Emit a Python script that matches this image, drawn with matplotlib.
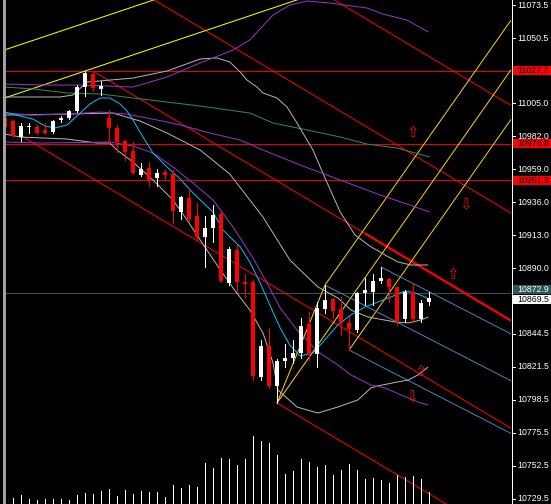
import matplotlib
matplotlib.use('Agg')
import matplotlib.pyplot as plt
from matplotlib.transforms import blended_transform_factory
from matplotlib.patches import Rectangle

# ---------------- data ----------------
opens  = [10994.7,10992.6,10981.5,10988.5,10988.5,10986.4,10985.0,10993.3,10994.7,10999.6,
          11016.3,11025.4,11015.0,10994.7,10987.8,10978.7,10971.7,10955.0,10959.9,10952.9,
          10957.1,10955.7,10929.2,10939.0,10926.4,10911.8,10918.1,10927.8,10879.7,10902.7,
          10880.4,10880.4,10814.2,10835.8,10808.0,10825.4,10827.5,10831.0,10851.2,10830.3,
          10861.6,10868.6,10861.6,10851.9,10847.0,10872.8,10873.5,10881.1,10882.5,10877.0,
          10854.7,10873.5,10854.7,10866.5]
highs  = [10996.1,10993.3,10991.3,10991.3,10989.9,10991.3,10993.3,10996.1,11000.3,11017.7,
          11027.5,11027.5,11020.5,11000.3,10989.9,10979.4,10978.0,10963.4,10964.1,10959.2,
          10958.5,10958.5,10940.4,10945.3,10935.5,10926.4,10934.1,10929.2,10904.8,10906.2,
          10886.0,10881.8,10840.0,10848.4,10826.8,10837.2,10840.0,10855.4,10859.5,10866.5,
          10878.3,10869.3,10870.0,10856.0,10873.5,10883.2,10886.0,10890.9,10883.2,10877.0,
          10874.9,10879.7,10867.9,10873.5]
lows   = [10987.8,10981.5,10978.7,10984.3,10983.6,10983.6,10984.3,10992.0,10994.0,10998.9,
          11010.1,11013.6,11010.8,10977.3,10971.0,10965.5,10955.7,10954.3,10947.4,10947.4,
          10951.5,10921.6,10924.4,10923.0,10909.7,10890.9,10908.3,10880.4,10878.3,10873.5,
          10870.0,10812.1,10812.1,10806.6,10796.1,10821.2,10824.0,10827.5,10826.1,10821.2,
          10858.8,10855.4,10843.5,10833.0,10845.6,10864.4,10864.4,10879.7,10866.5,10850.5,
          10852.6,10852.6,10852.6,10864.4]
closes = [10988.5,10982.2,10989.2,10989.2,10984.3,10984.3,10992.6,10994.7,10999.6,11016.3,
          11026.1,11015.6,11017.0,10987.8,10978.0,10971.0,10956.4,10959.2,10951.5,10956.4,
          10955.0,10929.9,10939.7,10924.4,10911.8,10918.1,10927.1,10881.1,10903.4,10880.4,
          10879.0,10814.9,10835.8,10808.0,10825.4,10827.5,10831.0,10849.8,10830.3,10862.3,
          10867.9,10860.2,10851.9,10847.7,10872.8,10874.9,10881.1,10883.2,10877.0,10852.6,
          10873.5,10854.7,10865.8,10869.5]
volumes = [6,6,9,5,4,5,5,5,4,9,11,10,13,15,8,14,10,13,12,12,7,19,16,19,17,
           41,36,46,45,39,45,68,63,61,49,30,33,45,42,37,39,29,34,40,34,25,26,24,21,29,27,28,25,12]

# indicator traces: (bar position, price)
cyan_x = [0,1.9,3.5,5,6.25,7.75,9.4,10.6,11.9,13.1,14.4,15.25,16,17.25,18.5,20.25,21.9,23.5,26,27.25,
          29.4,30.6,31.9,33.1,34.4,35.6,36.9,38.5,39.75,41.6,43.25,45,46.6,48.25,50,51.25,52.5,53.1]
cyan_y = [10998.9,10996.1,10994.0,10989.2,10987.8,10989.9,10998.2,11004.5,11008.7,11008.7,11004.5,10999.6,
          10993.3,10981.5,10970.3,10960.6,10952.2,10942.5,10929.2,10916.7,10904.8,10894.4,10879.7,10864.4,
          10848.4,10836.5,10828.9,10831.0,10838.6,10850.5,10857.5,10863.0,10866.5,10870.0,10874.2,10872.8,
          10870.0,10867.9]

pu_x = [0,5.6,10,16,20.25,24.4,28.5,30.6,33.5,35.6,37.75,40.6,45.25,47.25,50.25,52.9]
pu_y = [11018.4,11017.7,11017.7,11016.3,11023.3,11033.1,11042.1,11049.1,11066.5,11073.5,11076.3,
        11074.9,11071.4,11067.2,11063.0,11054.7]
pm_x = [0,3.5,7.75,11.9,15.25,17.75,20.25,21.9,25.6,29.4,32.25,36.9,41.9,46.9,50.6,53.1]
pm_y = [10998.2,10996.8,10997.5,10998.9,10997.5,10994.7,10992.0,10989.9,10984.3,10979.4,10972.4,
        10962.0,10951.5,10941.1,10934.1,10929.2]
pl_x = [0,4.75,13.1,16,18.5,21,23.5,26,28.5,31,32.75,34.4,36.5,39.1,41.6,43.25,45.75,47.5,49.5,
        51.6,52.9]
pl_y = [10978.0,10977.3,10978.0,10975.2,10970.3,10960.6,10949.4,10937.6,10918.8,10897.2,10879.7,
        10862.3,10847.0,10831.9,10822.6,10815.6,10808.6,10806.6,10801.7,10796.8,10794.7]

gu_x = [0,6.9,8.5,10.25,13.1,16,20.25,24.4,26.5,28.1,29.4,30.25,31.5,32.25,34,35.25,36.5,37.75,38.5,
        40,41.9,43.75,45.6,47.5,49.1,50.75,52.9]
gu_y = [11009.4,11009.4,11010.8,11019.8,11021.2,11022.6,11027.5,11035.9,11036.6,11033.8,11026.8,
        11021.2,11016.3,11012.2,11008.7,11002.4,10991.3,10979.4,10972.4,10952.9,10929.2,10913.2,
        10905.5,10899.3,10894.4,10892.3,10892.3]
gm_x = [0,7.75,13.5,16.9,20.25,24.4,28.1,32.25,35.6,39.1,41.6,43.25,45.4,48.75,50.4,52,52.9]
gm_y = [10996.8,10997.5,10998.2,10992.6,10984.3,10972.4,10955.7,10925.7,10895.8,10877.0,10869.3,
        10860.9,10856.0,10852.6,10851.9,10854.0,10856.0]
gl_x = [0,1.9,7.75,11.5,13.1,14,16,18.5,21,22.75,24.4,26.5,28.5,30.6,32.25,33.5,34.1,36.5,39.1,
        41.6,44.1,45.75,46.6,49.1,50.4,51.6,52.9]
gl_y = [10983.6,10981.5,10980.1,10977.3,10977.3,10972.4,10964.1,10951.5,10937.6,10923.7,10909.7,
        10892.3,10876.3,10860.9,10844.9,10824.0,10805.2,10793.3,10789.1,10793.3,10798.2,10806.6,
        10808.0,10810.8,10812.1,10815.6,10821.2]
gr_x = [0,3.5,7.75,11.9,16,20.25,24.4,30.6,33.5,37.75,41.9,45.25,49,53.1]
gr_y = [11016.3,11015.0,11012.2,11011.5,11008.7,11005.9,11003.1,10998.2,10991.3,10986.4,10981.5,
        10976.6,10973.8,10967.6]

hlines_red = [11027.7, 10976.8, 10951.3]
price_line = 10872.9
last_price = 10869.5
tick_values = [11073.5,11050.5,11005.0,10982.0,10959.0,10936.0,10913.0,10890.0,
               10844.5,10821.5,10798.5,10775.5,10752.5,10729.5]
tick_labels = ['11073.5','11050.5','11005.0','10982.0','10959.0','10936.0','10913.0','10890.0',
               '10844.5','10821.5','10798.5','10775.5','10752.5','10729.5']

red_slope = -3.33      # price per bar of the falling red channel
red_step = 75.0        # spacing of the red channel lines
yel_slope = 1.87       # price per bar of the rising yellow channel
yel_step = 33.5
blue_slope = -2.87

arrows = [(51, 10984.3, 'up'), (57.6, 10934.1, 'down'), (56.0, 10886.0, 'up'),
          (52, 10818.4, 'up'), (50.9, 10800.3, 'down')]

# ---------------- figure ----------------
W, H, DPI = 551, 504, 100
PX = 72.0 / DPI
fig = plt.figure(figsize=(W / DPI, H / DPI), dpi=DPI, facecolor='black')
ax = fig.add_axes([5 / W, 0, (511 - 5) / W, 1])
ax.set_facecolor('black')
XMAX = 63.25
ax.set_xlim(0, XMAX)
ax.set_ylim(10725.7, 11077.0)
ax.axis('off')

n = len(closes)
xs = list(range(n))
LW = 0.5   # non-antialiased hairline -> one pixel

# volume bars on a twin axis
axv = ax.twinx()
axv.set_ylim(0, 504)
axv.axis('off')
axv.vlines(xs, 0, volumes, color='white', lw=LW * PX, zorder=1, antialiased=False)

def line(X, Y, color, w=1.0, z=3):
    ax.plot(X, Y, color=color, lw=w * PX, zorder=z, antialiased=True, solid_capstyle='butt')

# horizontal lines
for v in hlines_red:
    ax.plot([0, XMAX], [v, v], color='#e80000', lw=LW * PX, zorder=2, antialiased=False)
ax.plot([0, XMAX], [price_line, price_line], color='#2f5656', lw=LW * PX, zorder=2, antialiased=False)

def seg(x0, y0, slope, x1):
    return [x0, x1], [y0, y0 + slope * (x1 - x0)]

# red falling channel anchored at high of bar 11
ax_, ay_ = 11, highs[11]
for off, start in [(2 * red_step, 0), (red_step, 0), (0, ax_), (-red_step, 2)]:
    y0 = ay_ + off + red_slope * (start - ax_)
    X, Y = seg(start, y0, red_slope, XMAX)
    line(X, Y, '#ff0000')
X, Y = seg(45.0, ay_ + red_slope * (45.0 - ax_), red_slope, XMAX)
line(X, Y, '#ff0000', w=2.2)
X, Y = seg(34, lows[34], red_slope, XMAX)
line(X, Y, '#ff0000')

# yellow rising channel through high of bar 10
for off in (0, yel_step):
    y0 = highs[10] + off - yel_slope * 10
    X, Y = seg(0, y0, yel_slope, XMAX)
    line(X, Y, '#ffff00')

# yellow pitchfork
p1 = (34, lows[34]); p2 = (40, highs[40]); p3 = (43, lows[43])
mx, my = (p2[0] + p3[0]) / 2, (p2[1] + p3[1]) / 2
ms = (my - p1[1]) / (mx - p1[0])
for (px_, py_) in (p1, p2, p3):
    X, Y = seg(px_, py_, ms, XMAX)
    line(X, Y, '#ffd000')
line([p1[0], p2[0]], [p1[1], p2[1]], '#ffd000')

# blue lines
for (bx, by) in [(40, highs[40]), (43, lows[43]), (47, highs[47])]:
    X, Y = seg(bx, by, blue_slope, XMAX)
    line(X, Y, '#4682b4')

# indicators
line(gr_x, gr_y, '#2e8b57', z=4)
for gx, gy in [(gu_x, gu_y), (gm_x, gm_y), (gl_x, gl_y)]:
    line(gx, gy, '#b4b4b4', z=4)
for qx, qy in [(pu_x, pu_y), (pm_x, pm_y), (pl_x, pl_y)]:
    line(qx, qy, '#9932cc', z=4)
line(cyan_x, cyan_y, '#00bfff', z=5)

# candles
for i in xs:
    o, h, l, c = opens[i], highs[i], lows[i], closes[i]
    col = 'white' if c >= o else '#ff0000'
    ax.vlines(i, l, h, color=col, lw=LW * PX, zorder=6, antialiased=False)
    lo, hi = min(o, c), max(o, c)
    if hi - lo < 1.0:
        hi = lo + 1.0
    ax.bar(i, hi - lo, bottom=lo, width=0.62, color=col, lw=0, zorder=7, antialiased=False)

# arrows
for (x, y, d) in arrows:
    ax.text(x, y, '\u21e7' if d == 'up' else '\u21e9', color='#e01010',
            fontsize=11, ha='center', va='center', family='DejaVu Sans', zorder=8)

# right price scale
fx = blended_transform_factory(fig.transFigure, ax.transData)
fig.add_artist(plt.Line2D([511.5 / W, 511.5 / W], [0, 1], transform=fig.transFigure,
                          color='white', lw=LW * PX, antialiased=False))
fig.add_artist(plt.Line2D([3.5 / W, 3.5 / W], [0, 1], transform=fig.transFigure,
                          color='#a0a0a0', lw=1.2 * PX, antialiased=False))
for v, t in zip(tick_values, tick_labels):
    ax.plot([511.5 / W, 515 / W], [v, v], transform=fx, color='white', lw=LW * PX,
            clip_on=False, antialiased=False)
    ax.text(517 / W, v, t, transform=fx, color='white', fontsize=6.3, family='Liberation Sans',
            ha='left', va='center', clip_on=False)

BOXH = 9 * 0.697
def box(v, text, bg, fg):
    ax.add_patch(Rectangle((513 / W, v - BOXH / 2), 38 / W, BOXH, transform=fx,
                           facecolor=bg, edgecolor='none', clip_on=False, zorder=9))
    ax.text(517 / W, v, text, transform=fx, color=fg, fontsize=6.3, family='Liberation Sans',
            ha='left', va='center', clip_on=False, zorder=10)

for v in hlines_red:
    box(v, f'{v:.1f}', '#ff0000', 'black')
box(price_line + 2.2, f'{price_line:.1f}', '#2f5656', 'white')
box(last_price - 1.0, f'{last_price:.1f}', 'white', 'black')

fig.savefig('out.png', dpi=DPI, facecolor='black')
